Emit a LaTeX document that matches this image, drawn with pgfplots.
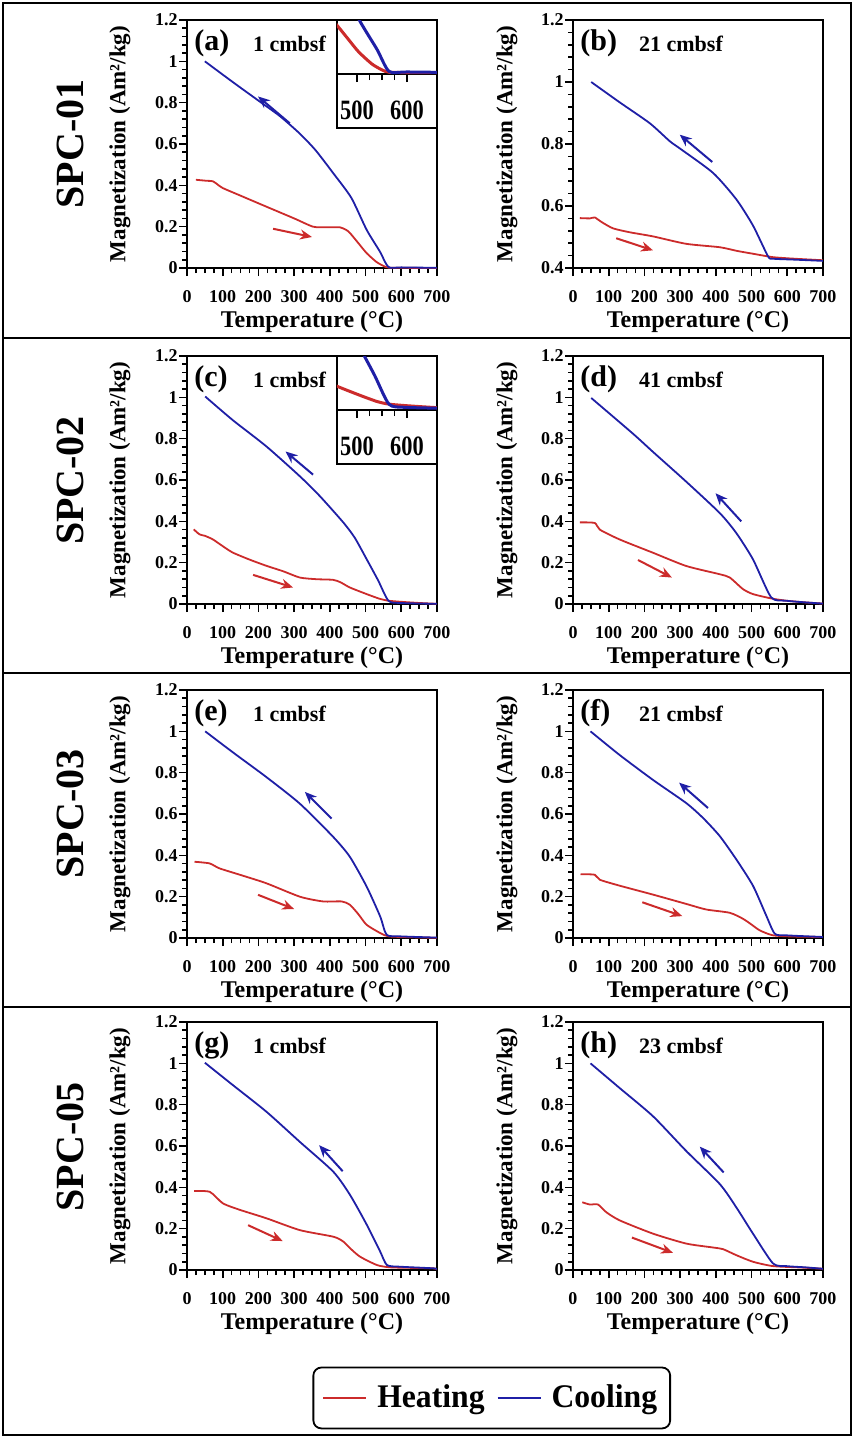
\documentclass[border=0pt]{standalone}
\usepackage{fontspec}
\setmainfont{Liberation Serif}
\newfontfamily\legfont[FakeStretch=0.96]{Liberation Serif}
\newfontfamily\insfont[FakeStretch=0.8]{Liberation Serif}
\usepackage{pgfplots}
\usepackage{pgfplotstable}
\pgfplotsset{compat=1.18}
\usetikzlibrary{arrows.meta}
\definecolor{heatc}{HTML}{CC2B2B}
\definecolor{coolc}{HTML}{1F1FA6}

% T (degC)  M (Am2/kg)
\pgfplotstableread{
T M
25 0.427
55 0.422
72 0.420
85 0.405
100 0.387
150 0.350
222 0.297
300 0.240
353 0.200
390 0.197
428 0.197
445 0.185
456 0.170
480 0.120
503 0.072
530 0.030
550 0.010
564 0.002
600 0.001
700 0.000
}\tah
\pgfplotstableread{
T M
50 1.000
128 0.900
200 0.810
260 0.735
316 0.650
360 0.570
409 0.460
460 0.340
503 0.185
540 0.080
564 0.005
600 0.003
700 0.001
}\tac
\pgfplotstableread{
T M
19 0.561
47 0.560
61 0.563
79 0.549
112 0.528
160 0.515
224 0.502
317 0.478
411 0.467
460 0.455
504 0.446
560 0.435
620 0.430
700 0.425
}\tbh
\pgfplotstableread{
T M
51 1.000
130 0.935
215 0.867
271 0.809
300 0.785
392 0.707
457 0.622
504 0.537
546 0.438
560 0.430
620 0.427
700 0.423
}\tbc
\pgfplotstableread{
T M
19 0.361
35 0.337
50 0.330
72 0.313
100 0.280
128 0.249
175 0.215
222 0.185
270 0.158
316 0.128
363 0.120
409 0.117
430 0.105
456 0.080
503 0.048
540 0.025
564 0.016
597 0.011
650 0.005
700 0.001
}\tch
\pgfplotstableread{
T M
51 1.004
128 0.890
222 0.763
316 0.618
372 0.522
438 0.394
470 0.320
503 0.217
535 0.115
564 0.016
597 0.005
700 0.001
}\tcc
\pgfplotstableread{
T M
19 0.395
61 0.392
75 0.360
131 0.312
224 0.248
317 0.184
411 0.144
439 0.128
476 0.072
504 0.048
555 0.027
597 0.016
650 0.008
700 0.002
}\tdh
\pgfplotstableread{
T M
51 0.997
168 0.824
224 0.736
317 0.592
411 0.440
457 0.344
504 0.216
555 0.032
597 0.016
650 0.008
700 0.002
}\tdc
\pgfplotstableread{
T M
21 0.369
63 0.361
91 0.337
150 0.305
222 0.265
316 0.200
381 0.177
433 0.177
456 0.161
480 0.115
503 0.064
541 0.024
564 0.008
620 0.004
700 0.001
}\teh
\pgfplotstableread{
T M
51 1.000
128 0.899
222 0.779
316 0.650
409 0.490
456 0.393
503 0.249
541 0.104
559 0.016
597 0.008
700 0.002
}\tec
\pgfplotstableread{
T M
21 0.309
61 0.306
75 0.282
131 0.253
224 0.210
317 0.165
373 0.138
439 0.122
476 0.093
500 0.065
523 0.037
560 0.013
620 0.007
700 0.005
}\tfh
\pgfplotstableread{
T M
49 1.000
131 0.885
224 0.765
317 0.653
364 0.581
411 0.493
457 0.381
504 0.253
541 0.109
565 0.021
597 0.013
700 0.005
}\tfc
\pgfplotstableread{
T M
20 0.382
64 0.378
101 0.322
150 0.290
223 0.250
316 0.193
410 0.161
438 0.137
460 0.100
485 0.064
532 0.024
569 0.013
640 0.010
691 0.008
700 0.002
}\tgh
\pgfplotstableread{
T M
50 1.003
129 0.894
223 0.765
316 0.620
410 0.475
457 0.362
504 0.217
541 0.089
560 0.024
597 0.016
691 0.008
700 0.002
}\tgc
\pgfplotstableread{
T M
26 0.328
47 0.317
70 0.317
93 0.280
131 0.240
224 0.176
317 0.128
392 0.109
420 0.101
457 0.072
504 0.040
560 0.019
640 0.012
700 0.006
}\thh
\pgfplotstableread{
T M
49 1.000
131 0.880
224 0.744
317 0.576
411 0.416
457 0.304
504 0.176
560 0.032
597 0.019
650 0.013
700 0.006
}\thc

\tikzset{
  harr/.style={heatc, line width=1pt, -{Stealth[length=6pt, width=5pt]}},
  carr/.style={coolc, line width=1pt, -{Stealth[length=6pt, width=5pt]}},
}
\pgfplotsset{
  mt/.style={
    scale only axis, width=125pt, height=124pt, anchor=north west,
    xmin=0, xmax=700, ymin=0, ymax=1.2,
    xtick={0,100,...,700}, minor x tick num=3,
    ytick={0,0.2,0.4,0.6,0.8,1,1.2}, minor y tick num=4,
    xtick pos=bottom, ytick pos=left, tick align=outside,
    major tick length=4pt, minor tick length=2.5pt,
    tick style={black, line width=0.8pt},
    axis line style={line width=1pt},
    clip mode=individual,
    /pgf/number format/assume math mode=true,
    ticklabel style={font=\fontsize{9}{10}\selectfont\bfseries},
    xticklabel style={yshift=-3.5pt},
    yticklabel style={inner sep=0.5pt},
    xlabel={Temperature (°C)},
    ylabel={Magnetization (Am²/kg)},
    xlabel style={at={(axis description cs:0.5,-0.216)}, anchor=center,
      font=\fontsize{12}{14}\selectfont\bfseries},
    ylabel style={at={(axis description cs:-0.268,0.5)}, anchor=center,
      font=\fontsize{11.5}{13}\selectfont\bfseries},
  },
  inset/.style={
    scale only axis, width=50pt, height=27pt,
    xmin=460, xmax=660, ymin=-0.004, ymax=0.18,
    xtick={500,600}, minor x tick num=3, ytick=\empty,
    xtick pos=bottom, tick align=outside,
    major tick length=4pt, minor tick length=3pt,
    tick style={black, line width=0.8pt},
    axis line style={line width=1pt},
    /pgf/number format/assume math mode=true,
    xticklabel style={font=\insfont\fontsize{14}{15}\selectfont\bfseries, yshift=-6pt},
  },
  heat/.style={heatc, line width=0.9pt, smooth, tension=0.4},
  cool/.style={coolc, line width=0.9pt, smooth, tension=0.4},
  inheat/.style={heatc, line width=1.5pt, smooth, tension=0.4},
  incool/.style={coolc, line width=1.5pt, smooth, tension=0.4},
}
\newcommand{\plab}[2]{%
  \node[anchor=west, inner sep=1pt, font=\fontsize{15}{16}\selectfont\bfseries] at (rel axis cs:0.02,0.905) {(#1)};
  \node[anchor=west, inner sep=1pt, font=\fontsize{11}{12}\selectfont\bfseries] at (rel axis cs:0.255,0.905) {#2 cmbsf};
}

\begin{document}
\begin{tikzpicture}
\useasboundingbox (0,0) rectangle (427pt,-718.5pt);
\draw[line width=1.2pt] (1.5pt,-1.5pt) rectangle (425.5pt,-717.5pt);
\foreach \yy in {169,336.5,503.5} \draw[line width=1.2pt] (1.5pt,-\yy pt) -- (425.5pt,-\yy pt);

\foreach \lab/\yy in {SPC-01/72,SPC-02/240.25,SPC-03/407,SPC-05/573.5}
  \node[rotate=90, font=\fontsize{20}{22}\selectfont\bfseries] at (35pt,-\yy pt) {\lab};

% (a)
\begin{axis}[mt, name=pa, at={(93.5pt,-10pt)}]
\addplot[heat] table {\tah};
\addplot[cool] table {\tac};
\draw[carr] (axis cs:288,0.70) -- (axis cs:199,0.83);
\draw[harr] (axis cs:241,0.19) -- (axis cs:350,0.15);
\plab{a}{1}
\end{axis}
\draw[line width=1pt, fill=white] (pa.north east) rectangle ([xshift=-50pt, yshift=-54pt]pa.north east);
\begin{axis}[inset, at={(pa.north east)}, anchor=north east]
\addplot[inheat] table {\tah};
\addplot[incool] table {\tac};
\end{axis}

% (b)
\begin{axis}[mt, at={(286.5pt,-10pt)}, ymin=0.4, ytick={0.4,0.6,0.8,1,1.2},
  ylabel style={at={(axis description cs:-0.264,0.5)}}]
\addplot[heat] table {\tbh};
\addplot[cool] table {\tbc};
\draw[carr] (axis cs:390,0.742) -- (axis cs:299,0.83);
\draw[harr] (axis cs:121,0.496) -- (axis cs:224,0.457);
\plab{b}{21}
\end{axis}

% (c)
\begin{axis}[mt, name=pc, at={(93.5pt,-178pt)}]
\addplot[heat] table {\tch};
\addplot[cool] table {\tcc};
\draw[carr] (axis cs:353,0.626) -- (axis cs:276,0.738);
\draw[harr] (axis cs:185,0.141) -- (axis cs:297,0.08);
\plab{c}{1}
\end{axis}
\draw[line width=1pt, fill=white] (pc.north east) rectangle ([xshift=-50pt, yshift=-54pt]pc.north east);
\begin{axis}[inset, at={(pc.north east)}, anchor=north east]
\addplot[inheat] table {\tch};
\addplot[incool] table {\tcc};
\end{axis}

% (d)
\begin{axis}[mt, at={(286.5pt,-178pt)}, ylabel style={at={(axis description cs:-0.264,0.5)}}]
\addplot[heat] table {\tdh};
\addplot[cool] table {\tdc};
\draw[carr] (axis cs:471,0.40) -- (axis cs:399,0.536);
\draw[harr] (axis cs:182,0.213) -- (axis cs:277,0.128);
\plab{d}{41}
\end{axis}

% (e)
\begin{axis}[mt, at={(93.5pt,-345pt)}]
\addplot[heat] table {\teh};
\addplot[cool] table {\tec};
\draw[carr] (axis cs:405,0.578) -- (axis cs:330,0.707);
\draw[harr] (axis cs:199,0.209) -- (axis cs:300,0.14);
\plab{e}{1}
\end{axis}

% (f)
\begin{axis}[mt, at={(286.5pt,-345pt)}, ylabel style={at={(axis description cs:-0.264,0.5)}}]
\addplot[heat] table {\tfh};
\addplot[cool] table {\tfc};
\draw[carr] (axis cs:378,0.629) -- (axis cs:297,0.752);
\draw[harr] (axis cs:194,0.173) -- (axis cs:306,0.106);
\plab{f}{21}
\end{axis}

% (g)
\begin{axis}[mt, at={(93.5pt,-511pt)}]
\addplot[heat] table {\tgh};
\addplot[cool] table {\tgc};
\draw[carr] (axis cs:436,0.478) -- (axis cs:370,0.604);
\draw[harr] (axis cs:171,0.217) -- (axis cs:268,0.14);
\plab{g}{1}
\end{axis}

% (h)
\begin{axis}[mt, at={(286.5pt,-511pt)}, ylabel style={at={(axis description cs:-0.264,0.5)}},
  legend columns=2,
  legend style={at={(axis description cs:-0.325,-0.516)}, anchor=center,
    draw=black, line width=0.9pt, rounded corners=4pt,
    inner xsep=4.5pt, inner ysep=6.75pt,
    font=\legfont\fontsize{16.5}{18}\selectfont\bfseries,
    /tikz/every even column/.append style={column sep=4pt}},
  legend image code/.code={\draw[#1, line width=1pt] (0pt,0pt) -- (21.5pt,0pt); \path (24.5pt,0pt);}]
\addplot[heat] table {\thh};
\addlegendentry{Heating}
\addplot[cool] table {\thc};
\addlegendentry{Cooling}
\draw[carr] (axis cs:422,0.472) -- (axis cs:355,0.597);
\draw[harr] (axis cs:165,0.157) -- (axis cs:280,0.083);
\plab{h}{23}
\end{axis}
\end{tikzpicture}
\end{document}
